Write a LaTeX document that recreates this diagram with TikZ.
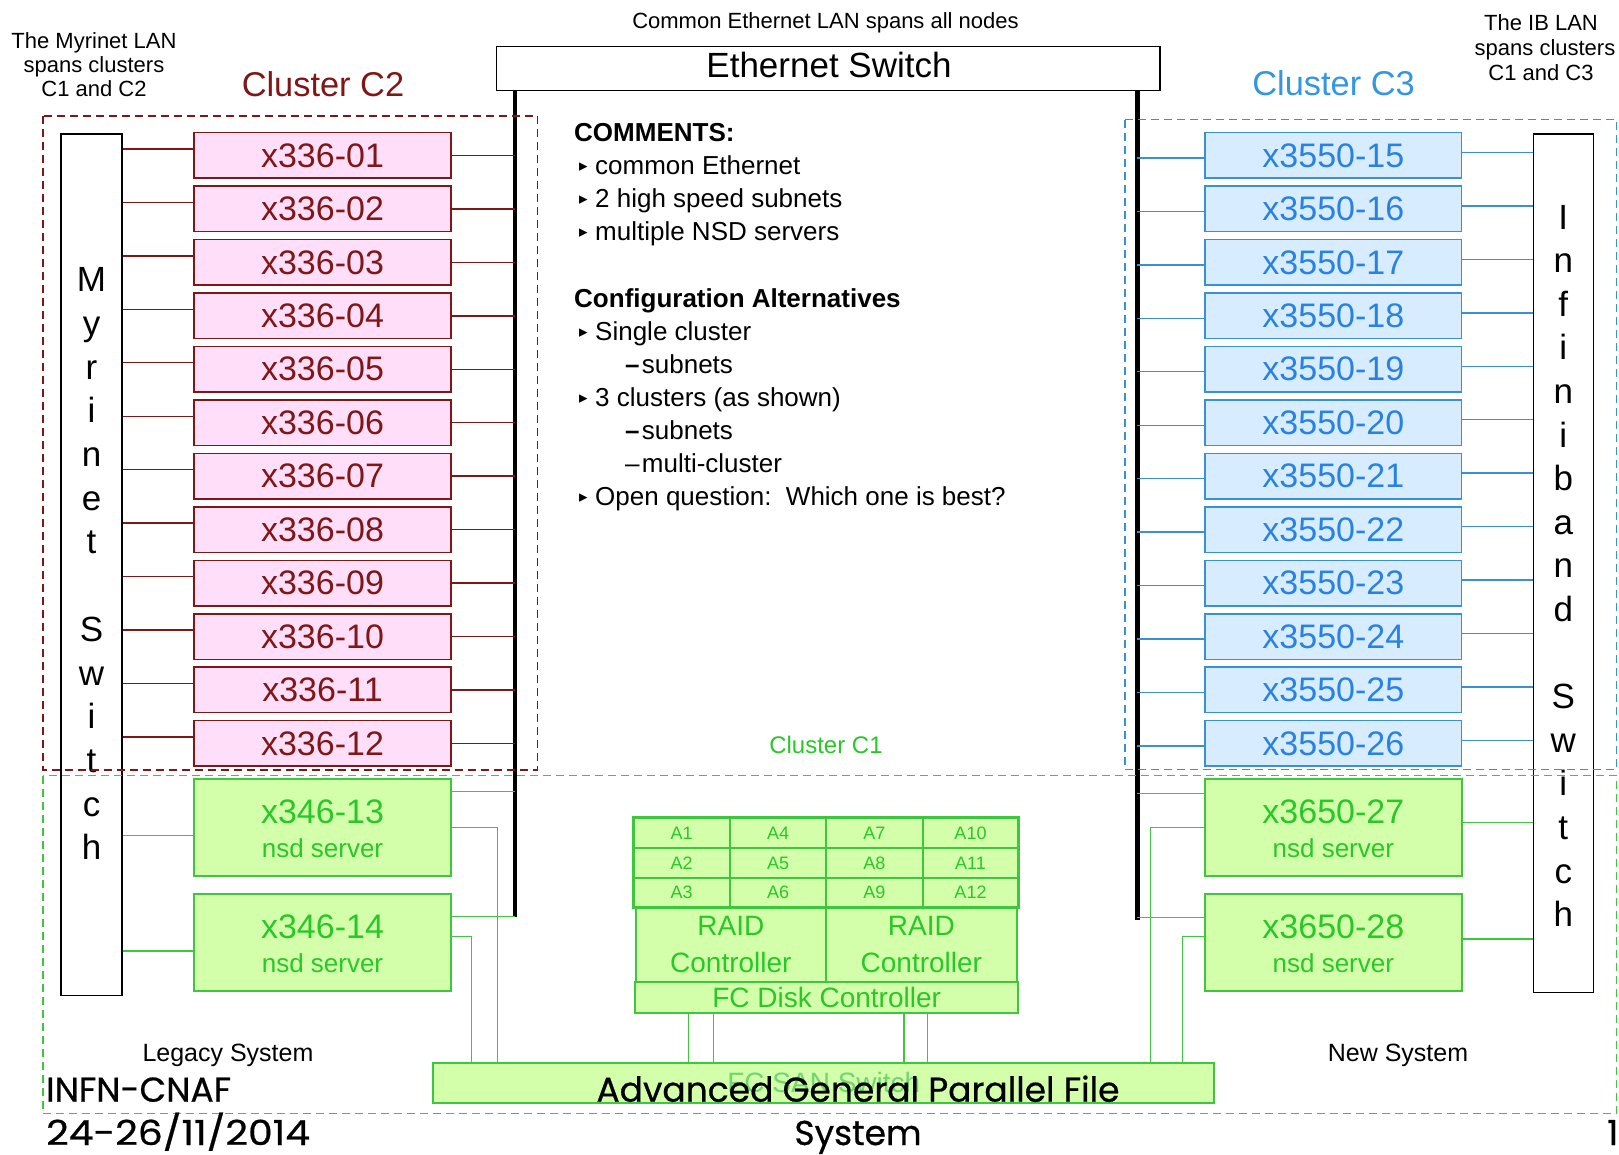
\documentclass[tikz,border=0pt]{standalone}
\usepackage{fontspec}
\usepackage{graphicx}
\setmainfont{Liberation Sans}
\newfontfamily\comicfont[FakeBold=0.6]{Poppins}
\newfontfamily\dejavu{DejaVu Sans}
\usetikzlibrary{calc}
\definecolor{cred}{RGB}{128,22,22}
\definecolor{cpink}{RGB}{255,222,250}
\definecolor{cblue}{RGB}{55,145,215}
\definecolor{cbluefill}{RGB}{216,236,255}
\definecolor{cbluetext}{RGB}{40,130,225}
\definecolor{cgreen}{RGB}{60,200,60}
\definecolor{cgreenfill}{RGB}{212,255,170}
\definecolor{cgreentext}{RGB}{40,200,40}
\definecolor{csantext}{RGB}{110,215,110}
\newcommand{\fsz}[1]{\fontsize{#1}{#1}\selectfont}
\newcommand{\bul}{\hspace*{5pt}\makebox[16pt][l]{\raisebox{3pt}{\fontsize{17}{17}\dejavu ▸}}}
\newcommand{\subd}[1]{\hspace*{51pt}\makebox[16.7pt][l]{#1}}
\begin{document}
\begin{tikzpicture}[x=1pt,y=-1pt,
  c2box/.style={draw=cred, fill=cpink, line width=1.5pt, minimum width=257pt, minimum height=45.5pt, inner sep=0pt, text=cred, font=\fsz{34}},
  c3box/.style={draw=cblue, fill=cbluefill, line width=1.5pt, minimum width=256.7pt, minimum height=45.5pt, inner sep=0pt, text=cbluetext, font=\fsz{34}},
  srv/.style={draw=cgreen, fill=cgreenfill, line width=1.5pt, minimum width=257pt, minimum height=97pt, inner sep=0pt},
  srvname/.style={anchor=base, text=cgreentext, font=\fsz{34}, inner sep=0pt},
  srvsub/.style={anchor=base, text=cgreentext, font=\fsz{26}, inner sep=0pt},
  swbox/.style={draw=black, fill=white, line width=1.5pt, inner sep=0pt},
  c2line/.style={draw=cred, line width=1.4pt},
  c3line/.style={draw=cblue, line width=1.4pt},
  c1line/.style={draw=cgreen, line width=1.4pt},
  ethline/.style={draw=black, line width=4.5pt},
  swletter/.style={anchor=base, font=\fsz{35}, inner sep=0pt},
  smalltext/.style={anchor=base, font=\fsz{22}, inner sep=0pt},
  gbox/.style={draw=cgreen, fill=cgreenfill, line width=1.8pt, inner sep=0pt, text=cgreentext},
  cell/.style={text=cgreentext, font=\fsz{18}, inner sep=0pt},
  comic/.style={font=\comicfont\fsz{34.5}, inner sep=0pt},
  dashbox/.style={line width=1.5pt, dash pattern=on 8pt off 5pt}
]
\fill[white] (0,0) rectangle (1619,1154);
\useasboundingbox (0,0) rectangle (1619,1154);

% top texts
\node[smalltext] (ethlan) at (825.5,28.5) {Common Ethernet LAN spans all nodes};
\node[smalltext] (myrlan1) at (94,48.3) {The Myrinet LAN};
\node[smalltext] (myrlan2) at (94,72.2) {spans clusters};
\node[smalltext] (myrlan3) at (94,96) {C1 and C2};
\node[smalltext] (iblan1) at (1541,30.7) {The IB LAN};
\node[smalltext] (iblan2) at (1545,55.3) {spans clusters};
\node[smalltext] (iblan3) at (1541,80) {C1 and C3};
\node[text=cred, font=\fsz{34.4}, inner sep=0pt] (c2lab) at (323,84.7) {Cluster C2};
\node[text={rgb,255:red,50;green,150;blue,225}, font=\fsz{34.4}, inner sep=0pt] (c3lab) at (1333.6,83.3) {Cluster C3};
\node[text=cgreentext, font=\fsz{24}, inner sep=0pt] (c1lab) at (826,745) {Cluster C1};

% Ethernet thick lines
\coordinate (ethLt) at (515,90.7);
\coordinate (ethLb) at (515,917);
\coordinate (ethRt) at (1137.3,90.7);
\coordinate (ethRb) at (1137.3,920);
\draw[ethline] (ethLt) -- (ethLb);
\draw[ethline] (ethRt) -- (ethRb);

% Ethernet switch
\node[swbox, minimum width=663.3pt, minimum height=44pt] (eth) at (828.35,68.7) {};
\node[font=\fsz{35}, inner sep=0pt] (ethtxt) at (829,65) {Ethernet Switch};

% Myrinet and IB switches
\node[swbox, minimum width=61pt, minimum height=861.3pt] (myr) at (91.5,564.65) {};
\node[swbox, minimum width=60pt, minimum height=858.7pt] (ib) at (1563.3,563.35) {};
\foreach \ch [count=\k from 0] in {M,y,r,i,n,e,t,{},S,w,i,t,c,h}
  \node[swletter] (myl\k) at (91.5,{291.7+43.7*\k}) {\ch};
\foreach \ch [count=\k from 0] in {I,n,f,i,n,i,b,a,n,d,{},S,w,i,t,c,h}
  \node[swletter] (ibl\k) at (1563.3,{229+43.6*\k}) {\ch};

% Cluster C2 and C3 nodes
\foreach \i in {1,...,12} {
  \pgfmathsetmacro\yy{155.45+53.45*(\i-1)}
  \pgfmathtruncatemacro\nn{\i+14}
  \node[c2box] (b\i) at (322.5,\yy) {x336-\ifnum\i<10 0\fi\i};
  \node[c3box] (c\i) at (1333.35,\yy) {x3550-\nn};
  \coordinate (lb\i) at ([yshift=6.5pt]b\i.west);
  \draw[c2line] (lb\i) -- (lb\i -| myr.east);
  \draw[c2line] (b\i.east) -- (b\i.east -| ethLt);
  \coordinate (lc\i) at ([yshift=-2.5pt]c\i.west);
  \draw[c3line] (lc\i) -- (lc\i -| ethRt);
  \coordinate (rc\i) at ([yshift=3pt]c\i.east);
  \draw[c3line] (rc\i) -- (rc\i -| ib.west);
}

% SAN switch
\node[gbox, minimum width=781pt, minimum height=40pt, text=csantext, font=\fsz{28}] (san) at (823.8,1082.7) {FC SAN Switch};

% servers
\node[srv] (s13) at (322.5,827.3) {};
\node[srv] (s14) at (322.5,942.3) {};
\node[srv] (s27) at (1333.35,827.3) {};
\node[srv] (s28) at (1333.35,942.3) {};
\node[srvname] (t13) at (322.5,823.7) {x346-13};
\node[srvsub] (u13) at (322.5,857) {nsd server};
\node[srvname] (t14) at (322.5,938.7) {x346-14};
\node[srvsub] (u14) at (322.5,972) {nsd server};
\node[srvname] (t27) at (1333.35,823.7) {x3650-27};
\node[srvsub] (u27) at (1333.35,857) {nsd server};
\node[srvname] (t28) at (1333.35,938.7) {x3650-28};
\node[srvsub] (u28) at (1333.35,972) {nsd server};

% server connections
\coordinate (m13) at ([yshift=-8pt]s13.west);
\coordinate (m14) at ([yshift=-8.7pt]s14.west);
\draw[c1line] (m13) -- (m13 -| myr.east);
\draw[c1line] (m14) -- (m14 -| myr.east);
\coordinate (e13) at ([yshift=35.6pt]s13.east);
\coordinate (e14) at ([yshift=25.6pt]s14.east);
\draw[c1line] (e13) -- (e13 -| ethLt);
\draw[c1line] (e14) -- (e14 -| ethLt);
\coordinate (v13) at (497.7,0);
\coordinate (v14) at (471.7,0);
\coordinate (f14) at ([yshift=5.6pt]s14.east);
\draw[c1line] (s13.east) -| (san.north -| v13);
\draw[c1line] (f14) -| (san.north -| v14);
\coordinate (i27) at ([yshift=4.6pt]s27.east);
\coordinate (i28) at ([yshift=3.3pt]s28.east);
\draw[c1line] (i27) -- (i27 -| ib.west);
\draw[c1line] (i28) -- (i28 -| ib.west);
\coordinate (e27) at ([yshift=34pt]s27.west);
\coordinate (e28) at ([yshift=24.6pt]s28.west);
\draw[c1line] (e27) -- (e27 -| ethRt);
\draw[c1line] (e28) -- (e28 -| ethRt);
\coordinate (v27) at (1150.7,0);
\coordinate (v28) at (1182.3,0);
\coordinate (f28) at ([yshift=5.6pt]s28.west);
\draw[c1line] (s27.west) -| (san.north -| v27);
\draw[c1line] (f28) -| (san.north -| v28);

% disk array
\node[gbox, line width=2.6pt, minimum width=385pt, minimum height=90.4pt] (grid) at (825.8,862.5) {};
\foreach \yy in {848.3,877.7}
  \draw[cgreen, line width=2pt] (grid.west |- 0,\yy) -- (grid.east |- 0,\yy);
\foreach \xx in {730,826,922.7}
  \draw[cgreen, line width=2pt] (grid.north -| \xx,0) -- (grid.south -| \xx,0);
\foreach \xx [count=\c from 0] in {681.7,778,874.3,970.5}
  \foreach \yy [count=\r from 1] in {832.8,863,892.7} {
    \pgfmathtruncatemacro\an{3*\c+\r}
    \node[cell] (a\an) at (\xx,\yy) {A\an};
  }
\node[gbox, minimum width=190.3pt, minimum height=74pt, align=center, font=\fontsize{28}{37}\selectfont] (raidL) at (730.85,944.7) {RAID\\Controller};
\node[gbox, minimum width=190.7pt, minimum height=74pt, align=center, font=\fontsize{28}{37}\selectfont] (raidR) at (921.35,944.7) {RAID\\Controller};
\node[gbox, minimum width=383.3pt, minimum height=31.6pt, font=\fsz{28}] (fcd) at (826.65,997.5) {FC Disk Controller};
\foreach \xx [count=\k] in {688.3,713.3,904,927.3} {
  \coordinate (fv\k) at (\xx,0);
  \draw[c1line] (fcd.south -| fv\k) -- (san.north -| fv\k);
}

% comments
\node[anchor=north west, align=left, font=\fontsize{26}{33.1}\selectfont, inner sep=0pt] (cmt) at (574,123.3) {%
\textbf{COMMENTS:}\\
\bul common Ethernet\\
\bul 2 high speed subnets\\
\bul multiple NSD servers\\[33.1pt]
\textbf{Configuration Alternatives}\\
\bul Single cluster\\
\subd{\textbf{–}}subnets\\
\bul 3 clusters (as shown)\\
\subd{\textbf{–}}subnets\\
\subd{–}multi-cluster\\
\bul Open question:\ \ Which one is best?};

% system labels
\node[anchor=base, font=\fsz{25}, inner sep=0pt] (legacy) at (228,1061.7) {Legacy System};
\node[anchor=base, font=\fsz{25}, inner sep=0pt] (newsys) at (1398,1061.7) {New System};

% dashed cluster boxes
\draw[dashbox, cred] (43,116) rectangle (537.3,770);
\draw[dashbox, cblue] (1125,119.5) rectangle (1616.7,769.3);
\draw[dashbox, cgreen] (43,775.7) rectangle (1616.7,1113.3);

% footer
\node[comic, anchor=base west] (inst) at (46,1101.7) {INFN-CNAF};
\node[comic, anchor=base west] (date) at (46,1145) {\scalebox{1.14}[1]{24-26/11/2014}};
\node[comic, anchor=base] (title1) at (858,1101.7) {Advanced General Parallel File};
\node[comic, anchor=base] (title2) at (858,1145) {System};
\node[comic, anchor=base west] (pg) at (1607,1145) {1};
\end{tikzpicture}
\end{document}
